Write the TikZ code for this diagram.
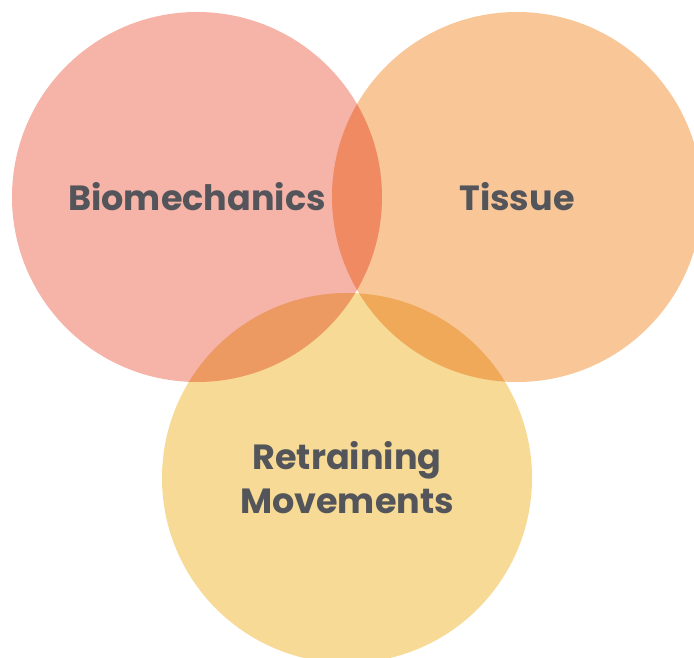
\documentclass[tikz,border=0pt]{standalone}
\usepackage{fontspec}
\setmainfont{Poppins}
\usetikzlibrary{positioning}
\definecolor{bioPink}{HTML}{F6B3A8}
\definecolor{tisOrange}{HTML}{F8C697}
\definecolor{retYellow}{HTML}{F6DA95}
\definecolor{labelGrey}{HTML}{53555A}
\tikzset{
  venn/.style={circle,minimum size=370pt,inner sep=0pt,blend mode=multiply},
  vennlabel/.style={text=labelGrey,font=\bfseries\fontsize{35}{44}\selectfont,align=center}
}
\begin{document}
\begin{tikzpicture}[x=1pt,y=-1pt]
    \useasboundingbox (0,0) rectangle (694,657);
    \clip (0,0) rectangle (694,657);

    \node[venn,fill=bioPink] (bio) at (197,197) {};
    \node[venn,fill=tisOrange] (tis) at (517,197) {};
    \node[venn,fill=retYellow] (ret) at (347,478) {};

    \node[vennlabel] (biotext) at (bio) {Biomechanics};
    \node[vennlabel] (tistext) at (tis) {Tissue};
    \node[vennlabel] (rettext) at (ret) {Retraining\\Movements};
\end{tikzpicture}
\end{document}
